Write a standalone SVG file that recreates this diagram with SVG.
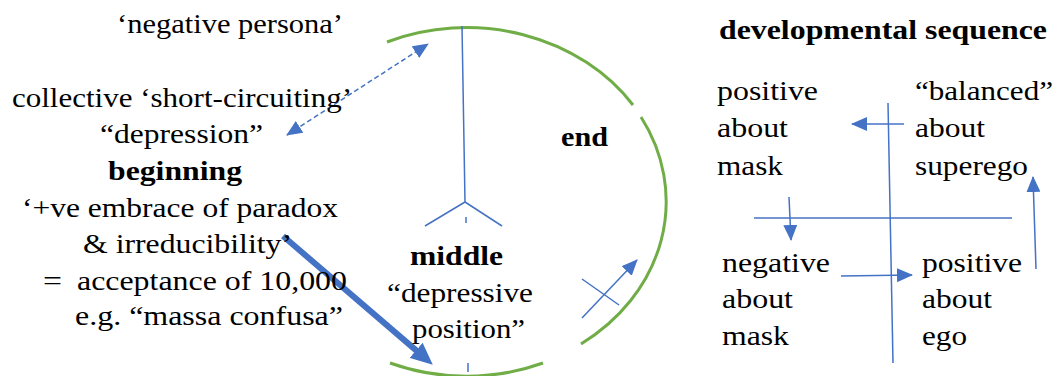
<svg xmlns="http://www.w3.org/2000/svg" width="1061" height="376" viewBox="0 0 1061 376">
<style>
.t{font-family:'Liberation Serif','Times New Roman',serif;font-size:28px;fill:#000}
.b{font-weight:bold}
.ln{stroke:#4472C4;stroke-width:1.5;fill:none}
.thick{stroke:#4472C4;stroke-width:6;fill:none}
.arc{stroke:#70AD47;stroke-width:3;fill:none}
</style>
<defs>
<marker id="ah" markerUnits="userSpaceOnUse" markerWidth="16" markerHeight="14" viewBox="0 0 16 14" refX="15" refY="7" orient="auto-start-reverse">
<path d="M0,0 L16,7 L0,14 z" fill="#4472C4"/>
</marker>
<marker id="ahBig" markerUnits="userSpaceOnUse" markerWidth="22" markerHeight="20" viewBox="0 0 22 20" refX="7" refY="10" orient="auto">
<path d="M0,0 L22,10 L0,20 z" fill="#4472C4"/>
</marker>
</defs>
<rect width="1061" height="376" fill="#fff"/>

<g id="circle">
<path class="arc" d="M387,42 A200,174 0 0 1 633,105"/>
<path class="arc" d="M641,117 A200,174 0 0 1 581,344"/>
<path class="arc" d="M543,363 A200,174 0 0 1 390,363"/>
</g>

<g id="connectors">
<line class="ln" x1="462" y1="26" x2="465" y2="202"/>
<line class="ln" x1="465" y1="202" x2="425" y2="226"/>
<line class="ln" x1="465" y1="202" x2="502" y2="226"/>
<line class="ln" x1="466" y1="217" x2="466" y2="223"/>
<line class="ln" x1="468" y1="363" x2="468" y2="372"/>
<line class="ln" x1="287" y1="135" x2="428" y2="44" stroke-dasharray="5,3" marker-start="url(#ah)" marker-end="url(#ah)"/>
<line class="thick" x1="283" y1="236" x2="421.4" y2="354.9" marker-end="url(#ahBig)"/>
<line class="ln" x1="582" y1="318" x2="637" y2="260" marker-end="url(#ah)"/>
<line class="ln" x1="582" y1="279" x2="619" y2="305"/>
<line class="ln" x1="888" y1="103" x2="893" y2="363"/>
<line class="ln" x1="754" y1="218" x2="1012" y2="218"/>
<line class="ln" x1="904" y1="124" x2="852" y2="124" marker-end="url(#ah)"/>
<line class="ln" x1="789" y1="197" x2="791" y2="240" marker-end="url(#ah)"/>
<line class="ln" x1="841" y1="276" x2="912" y2="275" marker-end="url(#ah)"/>
<line class="ln" x1="1036" y1="269" x2="1033" y2="177" marker-end="url(#ah)"/>
</g>

<g id="negative-persona">
<text class="t" x="117" y="33" textLength="226" lengthAdjust="spacingAndGlyphs">‘negative persona’</text>
</g>
<g id="beginning">
<text class="t" x="12" y="107" textLength="340" lengthAdjust="spacingAndGlyphs">collective ‘short-circuiting’</text>
<text class="t" x="100" y="143" textLength="163" lengthAdjust="spacingAndGlyphs">“depression”</text>
<text class="t b" x="108" y="180" textLength="134" lengthAdjust="spacingAndGlyphs">beginning</text>
<text class="t" x="22" y="217" textLength="316" lengthAdjust="spacingAndGlyphs">‘+ve embrace of paradox</text>
<text class="t" x="83" y="253" textLength="209" lengthAdjust="spacingAndGlyphs">&amp; irreducibility’</text>
<text class="t" x="43" y="290" textLength="19" lengthAdjust="spacingAndGlyphs">=</text>
<text class="t" x="77" y="290" textLength="270" lengthAdjust="spacingAndGlyphs">acceptance of 10,000</text>
<text class="t" x="75" y="325" textLength="268" lengthAdjust="spacingAndGlyphs">e.g. “massa confusa”</text>
</g>
<g id="end">
<text class="t b" x="561" y="146" textLength="47" lengthAdjust="spacingAndGlyphs">end</text>
</g>
<g id="middle">
<text class="t b" x="410" y="265" textLength="93" lengthAdjust="spacingAndGlyphs">middle</text>
<text class="t" x="387" y="302" textLength="146" lengthAdjust="spacingAndGlyphs">“depressive</text>
<text class="t" x="412" y="338" textLength="113" lengthAdjust="spacingAndGlyphs">position”</text>
</g>
<g id="title">
<text class="t b" x="719" y="39" textLength="328" lengthAdjust="spacingAndGlyphs">developmental sequence</text>
</g>
<g id="positive-mask">
<text class="t" x="717" y="100" textLength="101" lengthAdjust="spacingAndGlyphs">positive</text>
<text class="t" x="717" y="137" textLength="71" lengthAdjust="spacingAndGlyphs">about</text>
<text class="t" x="717" y="175" textLength="66" lengthAdjust="spacingAndGlyphs">mask</text>
</g>
<g id="balanced-superego">
<text class="t" x="915" y="100" textLength="138" lengthAdjust="spacingAndGlyphs">“balanced”</text>
<text class="t" x="915" y="137" textLength="70" lengthAdjust="spacingAndGlyphs">about</text>
<text class="t" x="915" y="175" textLength="113" lengthAdjust="spacingAndGlyphs">superego</text>
</g>
<g id="negative-mask">
<text class="t" x="722" y="272" textLength="108" lengthAdjust="spacingAndGlyphs">negative</text>
<text class="t" x="722" y="308" textLength="71" lengthAdjust="spacingAndGlyphs">about</text>
<text class="t" x="722" y="345" textLength="67" lengthAdjust="spacingAndGlyphs">mask</text>
</g>
<g id="positive-ego">
<text class="t" x="922" y="272" textLength="100" lengthAdjust="spacingAndGlyphs">positive</text>
<text class="t" x="922" y="308" textLength="70" lengthAdjust="spacingAndGlyphs">about</text>
<text class="t" x="922" y="345" textLength="45" lengthAdjust="spacingAndGlyphs">ego</text>
</g>
</svg>
